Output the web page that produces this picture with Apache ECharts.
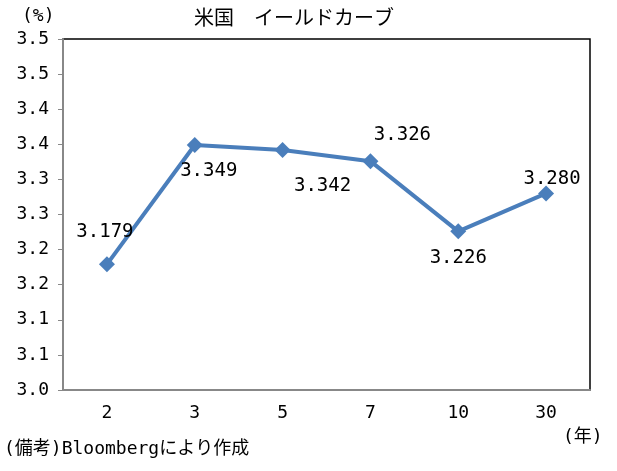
<!DOCTYPE html>
<html>
<head>
<meta charset="utf-8">
<script src="https://cdn.jsdelivr.net/npm/echarts@6/dist/echarts.min.js"></script>
<style>
  html,body{margin:0;padding:0;background:#fff;}
  #yield{width:617px;height:471px;}
</style>
</head>
<body>
<div id="yield"></div>
<script>
// 年限（カテゴリ）
var maturities = ['2', '3', '5', '7', '10', '30'];
// 利回り(%)
var yields = [3.179, 3.349, 3.342, 3.326, 3.226, 3.280];
// ラベル文字列
var yieldLabels = ['3.179', '3.349', '3.342', '3.326', '3.226', '3.280'];
// 縦軸目盛（Excelの丸め表示そのまま）
var yTickLabels = ['3.0', '3.1', '3.1', '3.2', '3.2', '3.3', '3.3', '3.4', '3.4', '3.5', '3.5'];

var numFont = 'DejaVu Sans Mono';
var jpFont = 'Noto Sans CJK JP';
var mixFont = '"DejaVu Sans Mono", "Noto Sans CJK JP"';

// ラベル位置（値ごと）
var labelPos = [
  {position: 'top', offset: [-2, -10]},
  {position: 'bottom', offset: [14, 4]},
  {position: 'bottom', offset: [40, 14]},
  {position: 'top', offset: [32, -4]},
  {position: 'bottom', offset: [0, 4]},
  {position: 'top', offset: [6, 8]}
];

var chartDom = document.getElementById('yield');
var yieldChart = echarts.init(chartDom);

var seriesData = yields.map(function (v, i) {
  return {
    value: v,
    label: {
      show: true,
      position: labelPos[i].position,
      offset: labelPos[i].offset,
      formatter: yieldLabels[i]
    }
  };
});

var option = {
  animation: false,
  backgroundColor: '#fff',
  title: {
    text: '米国\u3000イールドカーブ',
    left: 289,
    top: 2,
    textAlign: 'center',
    textStyle: {fontFamily: jpFont, fontSize: 20, fontWeight: 'normal', color: '#000'}
  },
  grid: {
    left: 63, right: 27, top: 39, bottom: 81,
    show: true,
    borderColor: '#000',
    borderWidth: 1.5,
    backgroundColor: '#fff'
  },
  graphic: [
    {type: 'text', left: 22, top: 7, style: {text: '(%)', fontFamily: mixFont, fontSize: 18, fill: '#000'}},
    {type: 'text', left: 563, top: 428, style: {text: '(年)', fontFamily: mixFont, fontSize: 18, fill: '#000'}},
    {type: 'text', left: 4, top: 440, style: {text: '(備考)Bloombergにより作成', fontFamily: mixFont, fontSize: 18, fill: '#000'}}
  ],
  xAxis: {
    type: 'category',
    data: maturities,
    boundaryGap: true,
    axisLine: {lineStyle: {color: '#888', width: 2}},
    axisTick: {show: false},
    axisLabel: {fontFamily: numFont, fontSize: 18, color: '#000', margin: 14}
  },
  yAxis: {
    type: 'value',
    min: 3.0,
    max: 3.5,
    interval: 0.05,
    splitLine: {show: false},
    axisLine: {show: true, lineStyle: {color: '#888', width: 2}},
    axisTick: {show: true, length: 5, lineStyle: {color: '#888'}},
    axisLabel: {
      fontFamily: numFont, fontSize: 18, color: '#000', margin: 14,
      formatter: function (v) {
        return yTickLabels[Math.round((v - 3.0) / 0.05)];
      }
    }
  },
  series: [
    {
      type: 'line',
      data: seriesData,
      symbol: 'diamond',
      symbolSize: 16,
      lineStyle: {color: '#4a7ebb', width: 4},
      itemStyle: {color: '#4a7ebb'},
      label: {fontFamily: numFont, fontSize: 19, color: '#000'}
    }
  ]
};
option && yieldChart.setOption(option);
</script>
</body>
</html>
